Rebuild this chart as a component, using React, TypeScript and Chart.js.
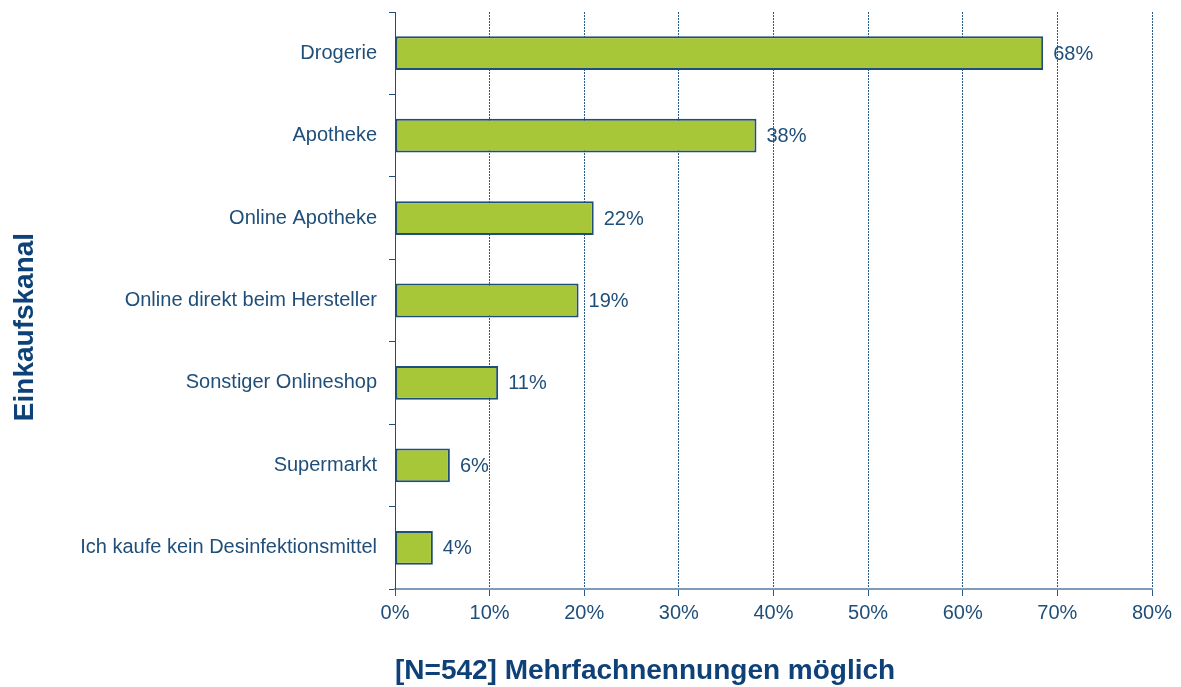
import React, { useEffect, useRef } from 'react';
import { Chart, registerables } from 'chart.js';

Chart.register(...registerables);

const categories = [
  'Drogerie',
  'Apotheke',
  'Online Apotheke',
  'Online direkt beim Hersteller',
  'Sonstiger Onlineshop',
  'Supermarkt',
  'Ich kaufe kein Desinfektionsmittel',
];
const shares = [68.5, 38.2, 21.0, 19.4, 10.9, 5.8, 4.0];
const shareLabels = ['68%', '38%', '22%', '19%', '11%', '6%', '4%'];
const xMin = 0;
const xMax = 80;
const xStep = 10;
const yTitle = 'Einkaufskanal';
const xTitle = '[N=542] Mehrfachnennungen möglich';

const TEXT = '#1f4e79';
const TITLE = '#0e4178';
const FONT = '"Liberation Sans", Arial, sans-serif';

const overlayPlugin = {
  id: 'overlay',
  afterDatasetsDraw(chart: any) {
    const ctx = chart.ctx as CanvasRenderingContext2D;
    const meta = chart.getDatasetMeta(0);
    ctx.save();
    ctx.font = `20px ${FONT}`;
    ctx.fillStyle = TEXT;
    ctx.textAlign = 'left';
    ctx.textBaseline = 'middle';
    meta.data.forEach((bar: any, i: number) => {
      ctx.fillText(shareLabels[i], bar.x + 10, bar.y + 1);
    });
    ctx.font = `bold 28px ${FONT}`;
    ctx.fillStyle = TITLE;
    ctx.textAlign = 'left';
    ctx.textBaseline = 'alphabetic';
    ctx.fillText(xTitle, chart.chartArea.left, 679);
    ctx.translate(33, 327);
    ctx.rotate(-Math.PI / 2);
    ctx.textAlign = 'center';
    ctx.fillText(yTitle, 0, 0);
    ctx.restore();
  },
};

export default function App() {
  const ref = useRef<HTMLCanvasElement | null>(null);
  useEffect(() => {
    if (!ref.current) return;
    const chart = new Chart(ref.current, {
      type: 'bar',
      data: {
        labels: categories,
        datasets: [
          {
            data: shares,
            backgroundColor: '#a7c739',
            borderColor: '#1f4e79',
            borderWidth: 2,
            borderSkipped: false,
            barPercentage: 0.41,
            categoryPercentage: 1,
          },
        ],
      },
      options: {
        indexAxis: 'y',
        responsive: false,
        animation: false,
        devicePixelRatio: 1,
        layout: { padding: { top: 12, right: 29, left: 0, bottom: 0 } },
        plugins: { legend: { display: false }, tooltip: { enabled: false } },
        scales: {
          x: {
            min: xMin,
            max: xMax,
            afterFit: (s: any) => {
              s.height = 98;
              s.paddingLeft = 0;
              s.paddingRight = 0;
            },
            ticks: {
              stepSize: xStep,
              callback: (v: any) => `${v}%`,
              color: TEXT,
              font: { family: FONT, size: 20 },
              padding: 5,
              maxRotation: 0,
            },
            grid: {
              color: '#2a5a8a',
              lineWidth: 1,
              tickLength: 7,
              drawTicks: true,
            },
            border: { display: true, color: '#7f9bbb', width: 2, dash: [2, 1] },
          },
          y: {
            afterFit: (s: any) => {
              s.width = 395;
              s.paddingTop = 0;
              s.paddingBottom = 0;
            },
            ticks: {
              color: TEXT,
              font: { family: FONT, size: 20 },
              padding: 12,
            },
            grid: {
              drawOnChartArea: false,
              drawTicks: true,
              tickLength: 6,
              offset: true,
              color: TEXT,
            },
            border: { display: true, color: TEXT, width: 1 },
          },
        },
      },
      plugins: [overlayPlugin],
    });
    return () => chart.destroy();
  }, []);
  return (
    <div style={{ position: 'absolute', left: 0, top: 0, width: 1181, height: 687, background: '#fff' }}>
      <canvas ref={ref} width={1181} height={687} />
    </div>
  );
}
